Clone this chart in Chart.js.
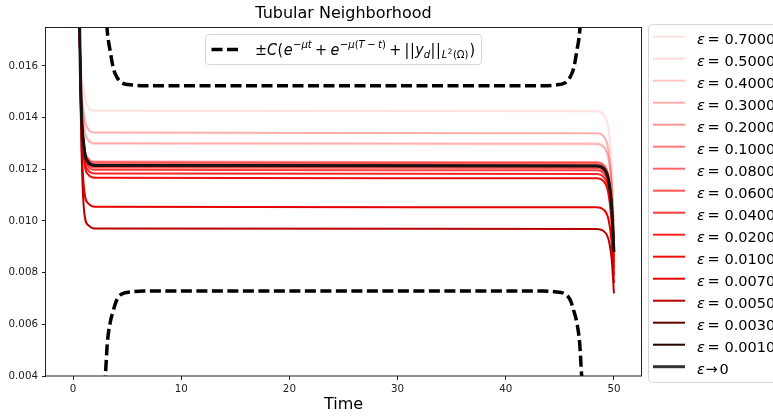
<!DOCTYPE html>
<html><head><meta charset="utf-8">
<script src="https://cdn.jsdelivr.net/npm/chart.js@4.4.1/dist/chart.umd.min.js"></script>
<style>html,body{margin:0;padding:0;background:#fff;overflow:hidden}</style>
</head><body>
<canvas id="c" width="773" height="416"></canvas>
<script>
// ---- data ----
const xTicks = [0, 10, 20, 30, 40, 50];
const yTicks = [0.004, 0.006, 0.008, 0.010, 0.012, 0.014, 0.016];

const epsLabels = ['0.7000','0.5000','0.4000','0.3000','0.2000','0.1000','0.0800','0.0600','0.0400','0.0200','0.0100','0.0070','0.0050','0.0030','0.0010'];

const timeGrid = [0, 0.6, 1.0, 1.4, 2.0, 48.4, 49.0, 49.5, 49.8, 50];

const eps_0_7000 = [0.060, 0.0180, 0.01505, 0.01440, 0.01427, 0.01425, 0.01414, 0.01355, 0.01217, 0.0100];
const eps_0_5000 = [0.060, 0.0180, 0.01376, 0.01311, 0.01298, 0.01296, 0.01287, 0.01239, 0.01128, 0.0095];
const eps_0_4000 = [0.060, 0.0180, 0.01380, 0.01315, 0.01302, 0.01300, 0.01290, 0.01241, 0.01124, 0.0094];
const eps_0_3000 = [0.060, 0.0180, 0.01420, 0.01355, 0.01342, 0.01340, 0.01329, 0.01272, 0.01139, 0.0093];
const eps_0_2000 = [0.060, 0.0180, 0.01308, 0.01243, 0.01230, 0.01228, 0.01219, 0.01174, 0.01067, 0.0090];
const eps_0_1000 = [0.060, 0.0180, 0.01304, 0.01239, 0.01226, 0.01224, 0.01215, 0.01169, 0.01060, 0.0089];
const eps_0_0800 = [0.060, 0.0180, 0.01298, 0.01233, 0.01220, 0.01218, 0.01209, 0.01162, 0.01052, 0.0088];
const eps_0_0600 = [0.060, 0.0180, 0.01285, 0.01220, 0.01207, 0.01205, 0.01196, 0.01148, 0.01036, 0.0086];
const eps_0_0400 = [0.060, 0.0180, 0.01276, 0.01211, 0.01198, 0.01196, 0.01186, 0.01137, 0.01022, 0.0084];
const eps_0_0200 = [0.060, 0.0180, 0.01262, 0.01197, 0.01184, 0.01182, 0.01172, 0.01122, 0.01005, 0.0082];
const eps_0_0100 = [0.060, 0.0180, 0.01245, 0.01180, 0.01167, 0.01165, 0.01155, 0.01103, 0.00981, 0.0079];
const eps_0_0070 = [0.060, 0.0180, 0.01133, 0.01068, 0.01055, 0.01053, 0.01045, 0.01005, 0.00909, 0.0076];
const eps_0_0050 = [0.060, 0.0180, 0.01049, 0.00984, 0.00971, 0.00969, 0.00962, 0.00928, 0.00847, 0.0072];
const eps_0_0030 = [0.060, 0.0180, 0.01294, 0.01229, 0.01216, 0.01214, 0.01205, 0.01161, 0.01055, 0.0089];
const eps_0_0010 = [0.060, 0.0180, 0.01293, 0.01228, 0.01215, 0.01213, 0.01204, 0.01158, 0.01050, 0.0088];
const eps_limit  = [0.060, 0.0180, 0.01293, 0.01228, 0.01215, 0.01213, 0.01204, 0.01158, 0.01050, 0.0088];

const boundTime  = [2.8, 3.0, 3.17, 3.42, 3.73, 4.04, 4.5, 5.5, 6.5, 43.5, 44.5, 45.5, 45.96, 46.27, 46.58, 46.83, 47.0, 47.2];
const upperBound = [0.0200, 0.01842, 0.01732, 0.01661, 0.01590, 0.01558, 0.01535, 0.01526, 0.01523, 0.01523, 0.01526, 0.01535, 0.01558, 0.01590, 0.01661, 0.01732, 0.01842, 0.0200];
const lowerBound = [0.0030, 0.00410, 0.00527, 0.00604, 0.00655, 0.00694, 0.00717, 0.00726, 0.00729, 0.00729, 0.00726, 0.00717, 0.00694, 0.00655, 0.00604, 0.00527, 0.00410, 0.0030];

// ---- styling ----
const epsSeries = [eps_0_7000, eps_0_5000, eps_0_4000, eps_0_3000, eps_0_2000, eps_0_1000, eps_0_0800, eps_0_0600, eps_0_0400, eps_0_0200, eps_0_0100, eps_0_0070, eps_0_0050, eps_0_0030, eps_0_0010];
const epsColors = ['rgba(255,0,0,0.12)','rgba(255,0,0,0.15)','rgba(255,0,0,0.22)','rgba(255,0,0,0.32)','rgba(255,0,0,0.42)','rgba(255,0,0,0.52)','rgba(255,0,0,0.60)','rgba(255,0,0,0.68)','rgba(255,0,0,0.76)','rgba(255,0,0,0.86)','rgba(240,0,0,0.95)','rgb(230,0,0)','rgb(185,0,0)','rgb(95,0,0)','rgb(45,0,0)'];
const FONT = 'DejaVu Sans';

const pts = (xs, ys) => xs.map((x, i) => ({x: x, y: ys[i]}));

const datasets = [];
epsSeries.forEach((vals, i) => {
  datasets.push({
    label: 'ε = ' + epsLabels[i], data: pts(timeGrid, vals),
    borderColor: epsColors[i], borderWidth: 2, pointRadius: 0,
    cubicInterpolationMode: 'monotone', order: 100 - i, _kind: 'eps', _num: epsLabels[i]
  });
});
datasets.push({
  label: 'ε→0', data: pts(timeGrid, eps_limit), borderColor: 'rgba(20,20,20,0.95)',
  legendColor: '#333', borderWidth: 3, pointRadius: 0, cubicInterpolationMode: 'monotone', order: 1, _kind: 'lim'
});
datasets.push({
  label: 'bound+', data: pts(boundTime, upperBound), borderColor: '#000', borderWidth: 3.5,
  borderDash: [11, 4.5], pointRadius: 0, cubicInterpolationMode: 'monotone', order: 0, _kind: 'bound'
});
datasets.push({
  label: 'bound-', data: pts(boundTime, lowerBound), borderColor: '#000', borderWidth: 3.5,
  borderDash: [11, 4.5], pointRadius: 0, cubicInterpolationMode: 'monotone', order: 0, _kind: 'bound'
});

function roundRect(ctx, x, y, w, h, r) {
  ctx.beginPath();
  ctx.moveTo(x + r, y);
  ctx.lineTo(x + w - r, y); ctx.quadraticCurveTo(x + w, y, x + w, y + r);
  ctx.lineTo(x + w, y + h - r); ctx.quadraticCurveTo(x + w, y + h, x + w - r, y + h);
  ctx.lineTo(x + r, y + h); ctx.quadraticCurveTo(x, y + h, x, y + h - r);
  ctx.lineTo(x, y + r); ctx.quadraticCurveTo(x, y, x + r, y);
  ctx.closePath();
}

// math label of the bounds, as pieces: [text, font, baseline shift, gap before]
const M = '15px', S = '10.5px', SI = 'italic 10.5px', MI = 'italic 15px';
const boundLabel = [
  ['±', M, 0, 0], ['C', MI, 0, 0], ['(', M, 0, 0.5], ['e', MI, 0, 0.5],
  ['−', S, -7, 0.5], ['μt', SI, -7, 0],
  ['+', M, 0, 3.5], ['e', MI, 0, 3.5],
  ['−', S, -7, 0.5], ['μ', SI, -7, 0], ['(', S, -7, 0], ['T', SI, -7, 0], ['−', S, -7, 2.5], ['t', SI, -7, 2.5], [')', S, -7, 0],
  ['+', M, 0, 3.5], ['|', M, 0, 3.5], ['|', M, 0, 0.5], ['y', MI, 0, 0.5], ['d', SI, 3, 0], ['|', M, 0, 0.5], ['|', M, 0, 0.5],
  ['L', SI, 3, 1], ['2', '7.5px', -1, 0.5], ['(Ω)', S, 3, 0.5], [')', M, 0, 1]
];

const decorPlugin = {
  id: 'decor',
  afterDatasetsDraw(chart) {
    const {ctx, chartArea: a} = chart;
    ctx.save();
    ctx.strokeStyle = '#222';
    ctx.lineWidth = 1;
    ctx.strokeRect(Math.round(a.left) - 0.5, Math.round(a.top) + 0.5, Math.round(a.right - a.left) + 1, Math.round(a.bottom - a.top) - 0.5);
    ctx.restore();
  },
  afterDraw(chart) {
    const ctx = chart.ctx;
    ctx.save();
    // ----- inline legend for the bounds -----
    roundRect(ctx, 205.5, 34.5, 276, 30, 3);
    ctx.fillStyle = 'rgba(255,255,255,0.85)'; ctx.fill();
    ctx.strokeStyle = '#d6d6d6'; ctx.lineWidth = 1; ctx.stroke();
    ctx.beginPath(); ctx.setLineDash([11, 4.5]); ctx.lineWidth = 3.5; ctx.strokeStyle = '#000';
    ctx.moveTo(211.5, 49.5); ctx.lineTo(238.5, 49.5); ctx.stroke(); ctx.setLineDash([]);
    ctx.fillStyle = '#000'; ctx.textBaseline = 'alphabetic'; ctx.textAlign = 'left';
    const base = 55, x0 = 255, x1 = 475;
    let total = 0;
    const widths = boundLabel.map(p => { ctx.font = p[1] + ' ' + FONT; const w = ctx.measureText(p[0]).width; total += w + p[3]; return w; });
    const k = (x1 - x0) / total;
    ctx.save();
    ctx.translate(x0, 0); ctx.scale(k, 1);
    let x = 0;
    boundLabel.forEach((p, i) => { x += p[3]; ctx.font = p[1] + ' ' + FONT; ctx.fillText(p[0], x, base + p[2]); x += widths[i]; });
    ctx.restore();

    // ----- right legend -----
    roundRect(ctx, 648.5, 24.5, 160, 358, 4);
    ctx.fillStyle = 'rgba(255,255,255,0.85)'; ctx.fill();
    ctx.strokeStyle = '#d6d6d6'; ctx.lineWidth = 1; ctx.stroke();
    const legendSets = chart.data.datasets.filter(d => d._kind === 'eps' || d._kind === 'lim');
    legendSets.forEach((d, i) => {
      const y = 36.7 + 22 * i;
      ctx.beginPath(); ctx.strokeStyle = d.legendColor || d.borderColor; ctx.lineWidth = d.borderWidth;
      ctx.moveTo(653, y); ctx.lineTo(685, y); ctx.stroke();
      ctx.fillStyle = '#000';
      ctx.font = 'italic 14.5px ' + FONT; ctx.fillText('ε', 697, y + 7);
      ctx.font = '14.5px ' + FONT;
      if (d._kind === 'eps') {
        ctx.fillText('=', 707.5, y + 7); ctx.fillText(d._num, 724.5, y + 7);
      } else {
        ctx.fillText('→', 705.5, y + 7); ctx.fillText('0', 719.5, y + 7);
      }
    });
    ctx.restore();
  }
};

new Chart(document.getElementById('c'), {
  type: 'line',
  data: {datasets: datasets},
  plugins: [decorPlugin],
  options: {
    responsive: false, animation: false, devicePixelRatio: 1,
    layout: {padding: {left: 0, right: 132, top: 0, bottom: 0}},
    plugins: {
      legend: {display: false}, tooltip: {enabled: false},
      title: {display: true, text: 'Tubular Neighborhood', fullSize: false, color: '#000',
              font: {family: FONT, size: 16, weight: 'normal'}, padding: {top: 4, bottom: 4}}
    },
    scales: {
      x: {
        type: 'linear', min: -2.5, max: 52.5,
        afterBuildTicks: s => { s.ticks = xTicks.map(v => ({value: v})); },
        afterFit: s => { s.height = 40; },
        border: {display: false},
        grid: {drawOnChartArea: false, drawTicks: true, tickLength: 4, tickColor: '#222'},
        ticks: {color: '#222', font: {family: FONT, size: 10.3}, padding: 3, autoSkip: false, maxRotation: 0, callback: v => String(v)},
        title: {display: true, text: 'Time', color: '#000', font: {family: FONT, size: 16}, padding: {top: 0, bottom: 2}}
      },
      y: {
        type: 'linear', min: 0.004, max: 0.0175,
        afterBuildTicks: s => { s.ticks = yTicks.map(v => ({value: v})); },
        afterFit: s => { s.width = 46; },
        border: {display: false},
        grid: {drawOnChartArea: false, drawTicks: true, tickLength: 4, tickColor: '#222'},
        ticks: {color: '#222', font: {family: FONT, size: 10.3}, padding: 4, autoSkip: false, callback: v => Number(v).toFixed(3)}
      }
    }
  }
});
</script>
</body></html>
